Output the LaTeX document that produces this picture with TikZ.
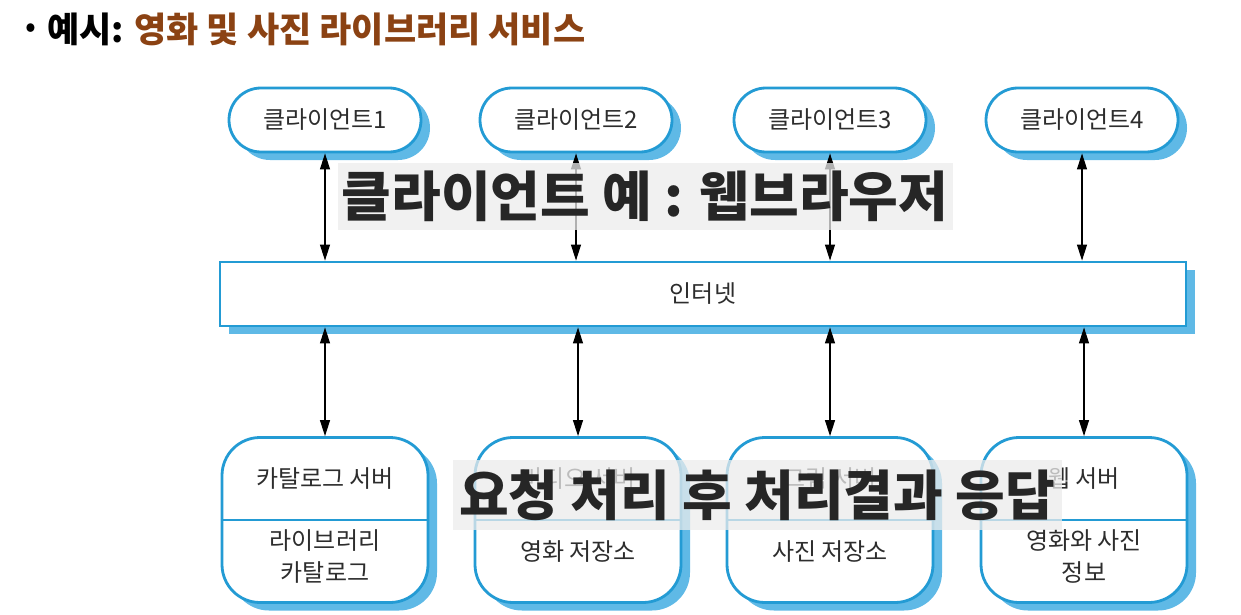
\documentclass[tikz,border=0pt]{standalone}
\usepackage{fontspec}
\setmainfont{Noto Sans CJK KR}
\usetikzlibrary{arrows.meta,shadows}
\definecolor{lineblue}{RGB}{35,155,212}
\definecolor{shadeblue}{RGB}{95,185,230}
\definecolor{titlebrown}{RGB}{139,66,19}
\definecolor{txt}{RGB}{45,45,45}
\definecolor{overlaytxt}{RGB}{38,38,38}
\definecolor{overlaybg}{RGB}{236,236,236}
\begin{document}
\begin{tikzpicture}[x=1pt,y=-1pt,
  every node/.style={inner sep=0pt},
  shade/.style={drop shadow={shadow xshift=9pt, shadow yshift=-8pt, fill=shadeblue, opacity=1}},
  client/.style={shade, draw=lineblue, line width=2.8pt, fill=white, rounded corners=32pt,
     minimum width=192pt, minimum height=64pt, font=\fontsize{24}{28}\selectfont, text=txt},
  server/.style={shade, draw=lineblue, line width=2.8pt, fill=white, rounded corners=38pt,
     minimum width=206pt, minimum height=165pt},
  net/.style={shade, draw=lineblue, line width=2.8pt, fill=white,
     minimum width=966pt, minimum height=64pt, font=\fontsize{24}{28}\selectfont, text=txt},
  lbl/.style={font=\fontsize{24}{32}\selectfont, text=txt, align=center},
  conn/.style={{Triangle[length=16pt,width=10pt]}-{Triangle[length=16pt,width=10pt]}, line width=1.1pt, black},
  splitline/.style={lineblue, line width=1.3pt},
  overlay/.style={fill=overlaybg, fill opacity=0.75, text opacity=1, text=overlaytxt,
     font=\fontsize{54}{60}\selectfont\bfseries}
]
\useasboundingbox (0,0) rectangle (1241,615);

% title
\node (bullet) at (31,31) {\fontsize{32}{36}\selectfont •};
\node[anchor=west, font=\fontsize{35}{40}\selectfont\bfseries] (title) at (47,29)
  {예시: {\color{titlebrown}영화 및 사진 라이브러리 서비스}};

% clients
\node[client] (c1) at (325,120) {클라이언트1};
\node[client] (c2) at (576,120) {클라이언트2};
\node[client] (c3) at (830,120) {클라이언트3};
\node[client] (c4) at (1082,120) {클라이언트4};

% internet
\node[net] (inet) at (703,294) {인터넷};

% servers
\node[server] (s1) at (325,520) {};
\node[server] (s2) at (578,520) {};
\node[server] (s3) at (830,520) {};
\node[server] (s4) at (1084,520) {};
\foreach \s in {s1,s2,s3,s4}{\draw[splitline] (\s.west) -- (\s.east);}

\node[lbl] (t1) at (325,479) {카탈로그 서버};
\node[lbl] (b1) at (325,556) {라이브러리\\카탈로그};
\node[lbl] (t2) at (578,479) {비디오 서버};
\node[lbl] (b2) at (578,552) {영화 저장소};
\node[lbl] (t3) at (830,479) {그림 서버};
\node[lbl] (b3) at (830,552) {사진 저장소};
\node[lbl] (t4) at (1084,479) {웹 서버};
\node[lbl] (b4) at (1084,556) {영화와 사진\\정보};

% connectors
\foreach \c in {c1,c2,c3,c4}{
  \draw[conn] (\c.south) -- (\c.south |- inet.north);
}
\foreach \s in {s1,s2,s3,s4}{
  \draw[conn] (\s.north |- inet.south) -- (\s.north);
}

% overlays
\node[overlay, minimum width=615pt, minimum height=67pt] (ov1) at (645,196) {클라이언트 예 : 웹브라우저};
\node[overlay, minimum width=609pt, minimum height=70pt] (ov2) at (757,495) {요청 처리 후 처리결과 응답};
\end{tikzpicture}
\end{document}
